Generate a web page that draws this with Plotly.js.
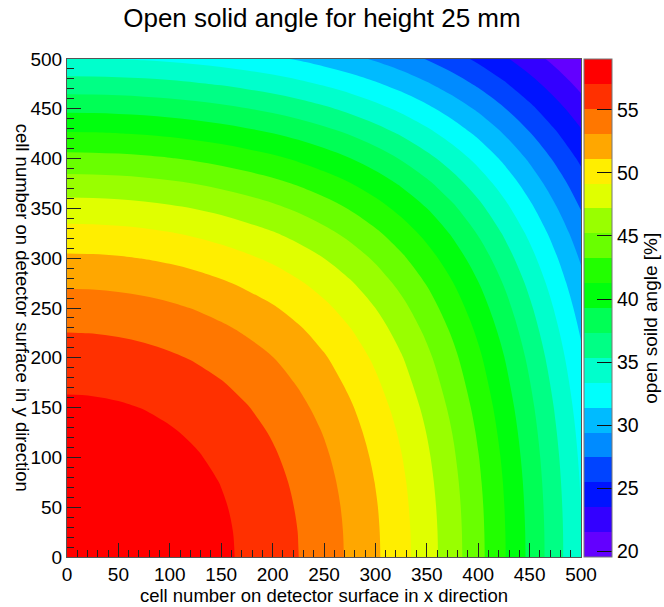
<!DOCTYPE html>
<html>
<head>
<meta charset="utf-8">
<script src="https://cdn.plot.ly/plotly-3.0.1.min.js"></script>
<style>html,body{margin:0;padding:0;background:#fff;}#chart{width:664px;height:607px;}</style>
</head>
<body>
<div id="chart"></div>
<script>
// cell positions (x and y) on the detector surface
const xCells = [0,25,50,75,100,125,150,175,200,225,250,275,300,325,350,375,400,425,450,475,500];
const yCells = [0,25,50,75,100,125,150,175,200,225,250,275,300,325,350,375,400,425,450,475,500];

// open solid angle [%], rows = y, columns = x
const solidAngle = [
[59.03,58.99,58.86,58.64,58.32,57.91,57.39,56.75,55.99,55.10,54.05,52.83,51.44,49.85,48.06,46.05,43.85,41.44,38.88,36.19,33.44],
[58.99,58.95,58.82,58.60,58.28,57.87,57.35,56.71,55.95,55.06,54.01,52.79,51.40,49.81,48.02,46.02,43.81,41.41,38.85,36.17,33.42],
[58.86,58.82,58.69,58.47,58.15,57.74,57.22,56.59,55.83,54.93,53.89,52.68,51.29,49.70,47.91,45.92,43.72,41.32,38.76,36.09,33.34],
[58.64,58.60,58.47,58.25,57.93,57.52,57.01,56.37,55.62,54.73,53.69,52.48,51.09,49.52,47.73,45.75,43.55,41.17,38.62,35.95,33.22],
[58.32,58.28,58.15,57.93,57.62,57.21,56.70,56.07,55.32,54.43,53.40,52.20,50.82,49.25,47.48,45.50,43.32,40.95,38.41,35.76,33.04],
[57.91,57.87,57.74,57.52,57.21,56.81,56.30,55.67,54.93,54.05,53.02,51.83,50.46,48.90,47.14,45.18,43.01,40.65,38.14,35.50,32.81],
[57.39,57.35,57.22,57.01,56.70,56.30,55.79,55.17,54.43,53.56,52.54,51.36,50.00,48.46,46.72,44.77,42.62,40.29,37.80,35.19,32.51],
[56.75,56.71,56.59,56.37,56.07,55.67,55.17,54.56,53.83,52.97,51.96,50.79,49.45,47.92,46.20,44.28,42.15,39.84,37.38,34.80,32.15],
[55.99,55.95,55.83,55.62,55.32,54.93,54.43,53.83,53.15,52.30,51.31,50.16,48.84,47.33,45.63,43.73,41.63,39.35,36.91,34.35,31.73],
[55.10,55.06,54.93,54.73,54.43,54.05,53.56,52.97,52.30,51.48,50.51,49.38,48.08,46.59,44.92,43.05,40.99,38.74,36.33,33.81,31.23],
[54.05,54.01,53.89,53.69,53.40,53.02,52.54,51.96,51.31,50.51,49.56,48.45,47.18,45.73,44.09,42.25,40.23,38.02,35.66,33.18,30.64],
[52.83,52.79,52.68,52.48,52.20,51.83,51.36,50.79,50.16,49.38,48.45,47.39,46.14,44.73,43.13,41.34,39.35,37.20,34.89,32.46,29.97],
[51.44,51.40,51.29,51.09,50.82,50.46,50.00,49.45,48.84,48.08,47.18,46.14,44.95,43.57,42.02,40.28,38.35,36.25,33.99,31.63,29.20],
[49.85,49.81,49.70,49.52,49.25,48.90,48.46,47.92,47.33,46.59,45.73,44.73,43.57,42.25,40.74,39.06,37.19,35.16,32.98,30.69,28.34],
[48.06,48.02,47.91,47.73,47.48,47.14,46.72,46.20,45.63,44.92,44.09,43.13,42.02,40.74,39.30,37.68,35.89,33.93,31.82,29.62,27.37],
[46.05,46.02,45.92,45.75,45.50,45.18,44.77,44.28,43.73,43.05,42.25,41.34,40.28,39.06,37.68,36.13,34.43,32.55,30.54,28.44,26.28],
[43.85,43.81,43.72,43.55,43.32,43.01,42.62,42.15,41.63,40.99,40.23,39.35,38.35,37.19,35.89,34.43,32.81,31.03,29.13,27.13,25.09],
[41.44,41.41,41.32,41.17,40.95,40.65,40.29,39.84,39.35,38.74,38.02,37.20,36.25,35.16,33.93,32.55,31.03,29.36,27.57,25.71,23.80],
[38.88,38.85,38.76,38.62,38.41,38.14,37.80,37.38,36.91,36.33,35.66,34.89,33.99,32.98,31.82,30.54,29.13,27.57,25.92,24.19,22.42],
[36.19,36.17,36.09,35.95,35.76,35.50,35.19,34.80,34.35,33.81,33.18,32.46,31.63,30.69,29.62,28.44,27.13,25.71,24.19,22.61,20.99],
[33.44,33.42,33.34,33.22,33.04,32.81,32.51,32.15,31.73,31.23,30.64,29.97,29.20,28.34,27.37,26.28,25.09,23.80,22.42,20.99,19.51]
];

// colour scale range and number of contour bands
const zMin = 19.55;
const zMax = 59.03;
const nBands = 20;

// band colours, lowest band first
const bandColors = ['#6300FF','#3300FF','#0014FF','#0044FF','#008BFF','#00BBFF','#00FFFC','#00FFCC','#00FF85','#00FF55',
                    '#00FF0E','#22FF00','#69FF00','#99FF00','#E0FF00','#FFEE00','#FFA700','#FF7700','#FF3000','#FF0000'];

const axisTicks = [0,50,100,150,200,250,300,350,400,450,500];
const zTicks = [20,25,30,35,40,45,50,55];

const dz = (zMax - zMin) / nBands;
const colorscale = bandColors.map((c, k) => [k / (nBands - 1), c]);
const FONT = '"Liberation Sans", Arial, Helvetica, sans-serif';

const trace = {
  type: 'contour',
  x: xCells,
  y: yCells,
  z: solidAngle,
  zauto: false,
  zmin: zMin,
  zmax: zMax,
  autocontour: false,
  contours: {start: zMin + dz, end: zMax - dz + 1e-6, size: dz, coloring: 'fill', showlines: false},
  line: {width: 0, smoothing: 1},
  colorscale: colorscale,
  hoverinfo: 'skip',
  colorbar: {
    x: 1.006, xanchor: 'left', xpad: 0,
    y: 0.5, yanchor: 'middle', ypad: 0,
    len: 1, lenmode: 'fraction',
    thickness: 28, thicknessmode: 'pixels',
    outlinewidth: 1, outlinecolor: '#777',
    tickmode: 'array', tickvals: zTicks, ticktext: zTicks.map(String),
    ticks: 'inside', ticklen: 15, tickwidth: 1, tickcolor: '#111',
    tickfont: {family: FONT, size: 19.5, color: '#000'}
  }
};

const axisCommon = {
  range: [0, 500],
  tickmode: 'array', tickvals: axisTicks, ticktext: axisTicks.map(String),
  ticks: 'inside', ticklen: 14, tickwidth: 1, tickcolor: '#222',
  minor: {ticks: 'inside', dtick: 10, tick0: 0, ticklen: 7, tickwidth: 1, tickcolor: '#222'},
  showline: true, linecolor: '#555', linewidth: 1, mirror: true,
  showgrid: false, zeroline: false,
  tickfont: {family: FONT, size: 19, color: '#000'},
  fixedrange: true
};

const layout = {
  width: 664, height: 607,
  margin: {l: 67, r: 83, t: 59, b: 50, autoexpand: false},
  paper_bgcolor: '#fff', plot_bgcolor: '#fff',
  font: {family: FONT, color: '#000'},
  title: {text: 'Open solid angle for height 25 mm', font: {family: FONT, size: 26, color: '#000'},
          x: 0.496, xref: 'paper', y: 0.970, yref: 'container', yanchor: 'middle'},
  xaxis: Object.assign({}, axisCommon, {
    title: {text: 'cell number on detector surface in x direction', font: {family: FONT, size: 18.5, color: '#000'}, standoff: 3}
  }),
  yaxis: Object.assign({}, axisCommon, {}),
  annotations: [
    {text: 'cell number on detector surface in y direction', xref: 'paper', yref: 'paper',
     x: -0.085, y: 0.5, xanchor: 'center', yanchor: 'middle', textangle: 90, showarrow: false,
     font: {family: FONT, size: 18.5, color: '#000'}},
    {text: 'open soild angle [%]', xref: 'paper', yref: 'paper',
     x: 1.136, y: 0.48, xanchor: 'center', yanchor: 'middle', textangle: -90, showarrow: false,
     font: {family: FONT, size: 19, color: '#000'}}
  ],
  showlegend: false
};

Plotly.newPlot('chart', [trace], layout, {displayModeBar: false, staticPlot: true});
</script>
</body>
</html>
